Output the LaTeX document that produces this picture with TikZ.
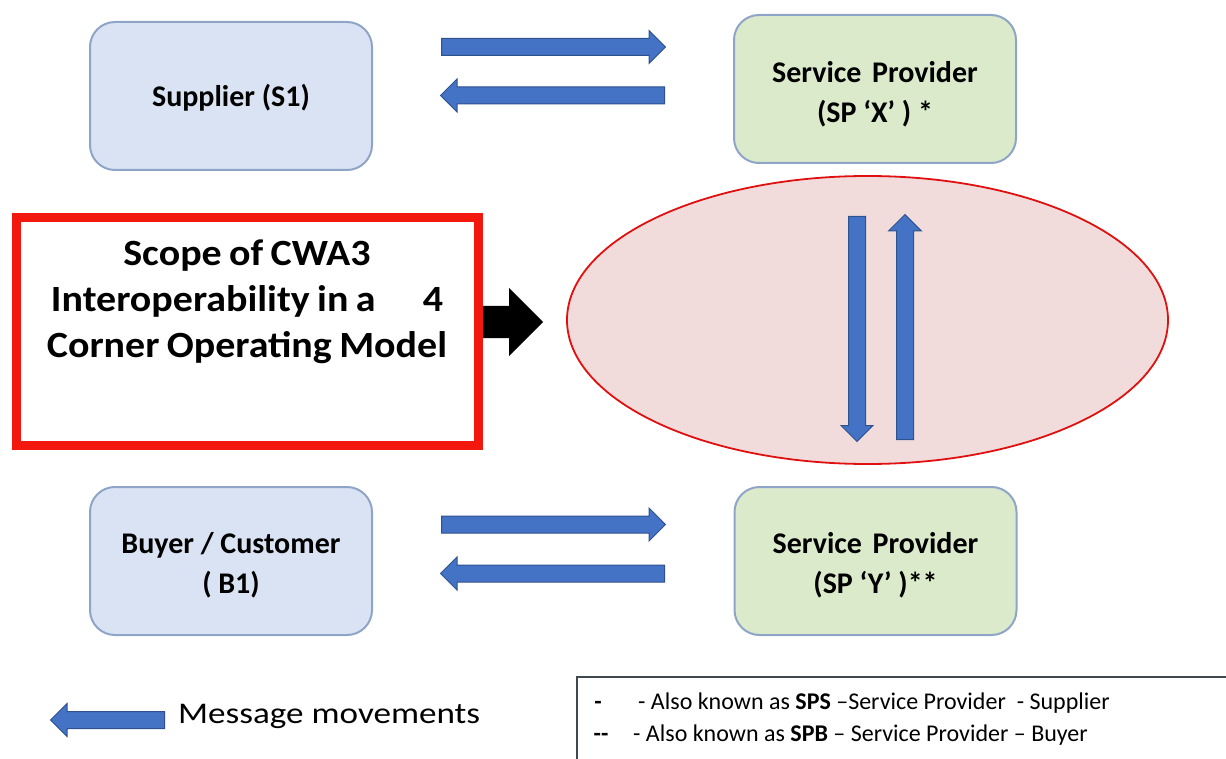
\documentclass[tikz,border=0pt]{standalone}
\usepackage{fontspec}
\setmainfont{Carlito}
\newfontfamily\widefont[FakeStretch=1.17]{Carlito}
\newfontfamily\scopefont[FakeStretch=1.08]{Carlito}
\usetikzlibrary{shapes.arrows,shapes.geometric,calc}
\definecolor{arrowblue}{HTML}{4472C4}
\definecolor{arrowedge}{HTML}{2F528F}
\definecolor{boxblue}{HTML}{DAE3F3}
\definecolor{boxgreen}{HTML}{DBEACA}
\definecolor{boxedge}{HTML}{8FA5C8}
\definecolor{ellfill}{HTML}{F2DCDB}
\definecolor{elledge}{HTML}{E01010}
\definecolor{scopered}{HTML}{F2180E}
\definecolor{legedge}{HTML}{404850}
\newcommand{\gap}{\hspace{0.2em}}
\tikzset{
  entity/.style={rectangle, rounded corners=25pt, draw=boxedge, line width=2pt,
    minimum width=282pt, minimum height=148pt, inner sep=0pt},
  entitytext/.style={align=center, inner sep=0pt,
    font=\fontsize{30}{40}\selectfont\bfseries},
  flow/.style={single arrow, fill=arrowblue, draw=arrowedge, line width=1pt,
    inner xsep=0pt, inner ysep=8pt, single arrow head extend=8pt,
    single arrow tip angle=90},
  vflow/.style={flow, inner xsep=8pt, inner ysep=0pt},
  legtext/.style={inner sep=0pt, font=\fontsize{24}{28}\selectfont},
}
\begin{document}
\begin{tikzpicture}[x=1pt,y=-1pt]
\useasboundingbox (0,0) rectangle (1226,759);
\clip (0,0) rectangle (1226,759);

% entity boxes
\node[entity, fill=boxblue] (s1) at (231,96) {};
\node[entitytext] (s1t) at ($(s1.center)+(0,2)$) {Supplier (S1)};
\node[entity, fill=boxgreen] (spx) at (875,89) {};
\node[entitytext] (spxt) at ($(spx.center)+(0,5)$) {Service\hspace{0.35em}Provider\\(SP ‘X’ ) *};
\node[entity, fill=boxblue] (b1) at (231,561) {};
\node[entitytext] (b1t) at ($(b1.center)+(0,4)$) {Buyer / Customer\\( B1)};
\node[entity, fill=boxgreen] (spy) at (875.5,561) {};
\node[entitytext] (spyt) at ($(spy.center)+(0,4)$) {Service\hspace{0.35em}Provider\\(SP ‘Y’ )**};

% scope ellipse
\node[ellipse, draw=elledge, fill=ellfill, line width=1.8pt, inner sep=0pt,
      minimum width=601pt, minimum height=288pt] (core) at (867.5,320) {};

% message arrows
\node[flow, minimum height=224pt, anchor=tail] (a1) at (441,47) {};
\node[flow, minimum height=224pt, shape border rotate=180, anchor=tail] (a2) at (665,95.5) {};
\node[flow, minimum height=224pt, anchor=tail] (a3) at (441,524.5) {};
\node[flow, minimum height=224pt, shape border rotate=180, anchor=tail] (a4) at (665,573.5) {};
\node[vflow, minimum height=225pt, single arrow head extend=7.5pt,
      shape border rotate=270, anchor=tail] (a5) at (857,216) {};
\node[vflow, minimum height=225pt, shape border rotate=90, anchor=tail] (a6) at (905,440) {};

% black pointer arrow
\node[single arrow, fill=black, inner xsep=0pt, inner ysep=16pt, minimum height=65pt,
      single arrow head extend=18pt, single arrow tip angle=90, anchor=tail] (ptr) at (478,322) {};

% scope box
\node[draw=scopered, line width=9pt, minimum width=462pt, minimum height=227pt, inner sep=0pt] (cwa) at (247,331.5) {};
\node[align=center, inner sep=0pt,
      font=\scopefont\fontsize{37}{46}\selectfont\bfseries] (cwatext) at (247,302)
  {Scope\gap of\gap CWA3\\\makebox[392pt]{Interoperability\gap in\gap a\hfill 4}\\Corner\gap Operating\gap Model};

% legend: message movements
\node[flow, minimum height=114pt, shape border rotate=180, anchor=tail] (legarrow) at (165,720) {};
\node[anchor=base west, inner sep=0pt, font=\widefont\fontsize{30}{36}\selectfont] (legmsg) at (178,723) {Message movements};

% legend box
\draw[draw=legedge, line width=1.5pt] (577,677) rectangle (1250,790);
\node[legtext, anchor=base] (m1) at (598,709) {\textbf{-}};
\node[legtext, anchor=base west] (l1) at (638,709) {- Also known as \textbf{SPS} –Service Provider \ - Supplier};
\node[legtext, anchor=base] (m2) at (601,741) {\textbf{-{}-}};
\node[legtext, anchor=base west] (l2) at (633,741) {- Also known as \textbf{SPB} – Service Provider – Buyer};
\end{tikzpicture}
\end{document}
